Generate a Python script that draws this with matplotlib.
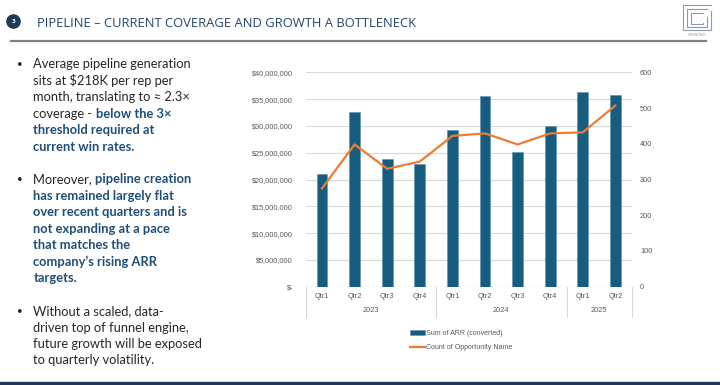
import matplotlib.pyplot as plt
from matplotlib.lines import Line2D
from matplotlib.patches import Circle, Rectangle
import matplotlib.transforms as mtransforms
from matplotlib.ticker import FuncFormatter, MultipleLocator

W, H = 720, 385

quarters = ["Qtr1", "Qtr2", "Qtr3", "Qtr4", "Qtr1", "Qtr2", "Qtr3", "Qtr4", "Qtr1", "Qtr2"]
years = ["2023", "2024", "2025"]
quarters_per_year = [4, 4, 2]
arr = [21.0e6, 32.6e6, 23.8e6, 22.95e6, 29.2e6, 35.5e6, 25.2e6, 29.9e6, 36.3e6, 35.8e6]
opp_count = [275, 398, 330, 350, 422, 429, 398, 429, 432, 507]

title = "PIPELINE \u2013 CURRENT COVERAGE AND GROWTH A BOTTLENECK"

# each bullet: list of lines, each line a list of (text, bold) pieces
bullet_1 = [
    [("Average pipeline generation", False)],
    [("sits at $218K per rep per", False)],
    [("month, translating to \u2248 2.3\u00d7", False)],
    [("coverage - ", False), ("below the 3\u00d7", True)],
    [("threshold required at", True)],
    [("current win rates.", True)],
]
bullet_2 = [
    [("Moreover, ", False), ("pipeline creation", True)],
    [("has remained largely flat", True)],
    [("over recent quarters and is", True)],
    [("not expanding at a pace", True)],
    [("that matches the", True)],
    [("company\u2019s rising ARR", True)],
    [("targets.", True)],
]
bullet_3 = [
    [("Without a scaled, data-", False)],
    [("driven top of funnel engine,", False)],
    [("future growth will be exposed", False)],
    [("to quarterly volatility.", False)],
]

NAVY = "#1f3a57"
BLUE_TXT = "#1f4e79"
BAR = "#175d80"
ORANGE = "#ed7d31"
GREY_TXT = "#595959"


def fx(x):
    return x / W


def fy(y):
    return 1 - y / H


fig = plt.figure(figsize=(7.2, 3.85), dpi=100)
renderer = fig.canvas.get_renderer()

# header
fig.add_artist(Circle((13.5 / 100, (H - 21.5) / 100), 0.066, transform=fig.dpi_scale_trans,
                      color=NAVY, zorder=2))
fig.text(fx(13.5), fy(21.8), "3", color="white", fontsize=4.5, fontweight="bold",
         ha="center", va="center", family="Open Sans")
fig.text(fx(37), fy(26.7), title, color="#24476b", fontsize=9.4, family="Open Sans",
         va="baseline", ha="left")
fig.add_artist(Line2D([fx(11), fx(706)], [fy(41), fy(41)], color="#808080", lw=1.6))

# logo
logo_c = "#8a9ab0"
boxes = [(682.5, 5, 711, 30), (686.5, 9, 707, 27), (690.5, 13, 703, 24)]
for i, (x0, y0, x1, y1) in enumerate(boxes):
    xs = [x1, x0, x0, x1, x1]
    ys = [y0, y0, y1, y1, y0 + 6 + i * 2]
    fig.add_artist(Line2D([fx(v) for v in xs], [fy(v) for v in ys], color=logo_c, lw=0.8))
fig.text(fx(696.7), fy(34.5), "GREENFIELD", fontsize=2.2, color=logo_c, ha="center",
         va="center")

# bottom strip
fig.add_artist(Rectangle((0, 0), 1, 3.5 / H, transform=fig.transFigure, color=NAVY))

# left text
body_font = ["Lato", "DejaVu Sans"]
pitch = 16.45
y0 = 68.3
line_idx = 0
for bullet in [bullet_1, bullet_2, bullet_3]:
    fig.text(fx(17.5), fy(y0 + line_idx * pitch - 1), "\u2022", fontsize=7, color="#222222",
             family=body_font, va="baseline")
    for line in bullet:
        x = 33.3
        y = y0 + line_idx * pitch
        for piece, bold in line:
            t = fig.text(fx(x), fy(y), piece, fontsize=9.3, family=body_font,
                         fontweight="bold" if bold else "normal",
                         color=BLUE_TXT if bold else "#262626", va="baseline")
            x += t.get_window_extent(renderer).width
        line_idx += 1
    line_idx += 1

# chart
left, right, top, bottom = 305.7, 631.7, 72.3, 286.7
ax = fig.add_axes([fx(left), fy(bottom), (right - left) / W, (bottom - top) / H])
x = list(range(len(arr)))
bars = ax.bar(x, arr, width=0.33, color=BAR, edgecolor="#5b8fb0", linewidth=0.4,
              label="Sum of ARR (converted)", zorder=2)
ax.set_xlim(-0.5, len(arr) - 0.5)
ax.set_ylim(0, 40e6)
ax.yaxis.set_major_locator(MultipleLocator(5e6))
ax.yaxis.set_major_formatter(FuncFormatter(lambda v, p: "$-" if v == 0 else f"${v:,.0f}"))
ax.grid(axis="y", color="#d9d9d9", lw=0.8)
ax.set_axisbelow(True)
for s in ax.spines.values():
    s.set_visible(False)
ax.axhline(0, color="#c8c8c8", lw=0.8, zorder=1)
ax.set_xticks([])
ax.tick_params(axis="y", length=0, pad=9, labelsize=5.3, labelcolor=GREY_TXT)
for lab in ax.get_yticklabels():
    lab.set_family("Liberation Sans")

ax2 = ax.twinx()
line, = ax2.plot(x, opp_count, color=ORANGE, lw=1.6, label="Count of Opportunity Name")
ax2.set_ylim(0, 600)
ax2.yaxis.set_major_locator(MultipleLocator(100))
for s in ax2.spines.values():
    s.set_visible(False)
ax2.tick_params(axis="y", length=0, pad=6, labelsize=5.3, labelcolor=GREY_TXT)
for lab in ax2.get_yticklabels():
    lab.set_family("Liberation Sans")

# two level category axis
trans = mtransforms.blended_transform_factory(ax.transData, ax.transAxes)
sep_y = -30 / (bottom - top)
for i, q in enumerate(quarters):
    ax.text(i, -10 / (bottom - top), q, transform=trans, ha="center", va="center",
            fontsize=5.3, color=GREY_TXT, family="Liberation Sans")
start = 0
edges = [-0.5]
for yr, n in zip(years, quarters_per_year):
    ax.text(start + (n - 1) / 2, -24 / (bottom - top), yr, transform=trans, ha="center",
            va="center", fontsize=5.3, color=GREY_TXT, family="Liberation Sans")
    start += n
    edges.append(start - 0.5)
for e in edges:
    ax.plot([e, e], [0, sep_y], transform=trans, color="#d9d9d9", lw=0.8, clip_on=False)

leg = fig.legend(handles=[bars, line], loc="upper left", bbox_to_anchor=(fx(410), fy(330)),
                 frameon=False, handlelength=2.1, labelspacing=1.0,
                 handletextpad=0.25, borderpad=0, borderaxespad=0,
                 prop={"family": "Liberation Sans", "size": 5})
for t in leg.get_texts():
    t.set_color(GREY_TXT)

fig.savefig("out.png", dpi=100)
